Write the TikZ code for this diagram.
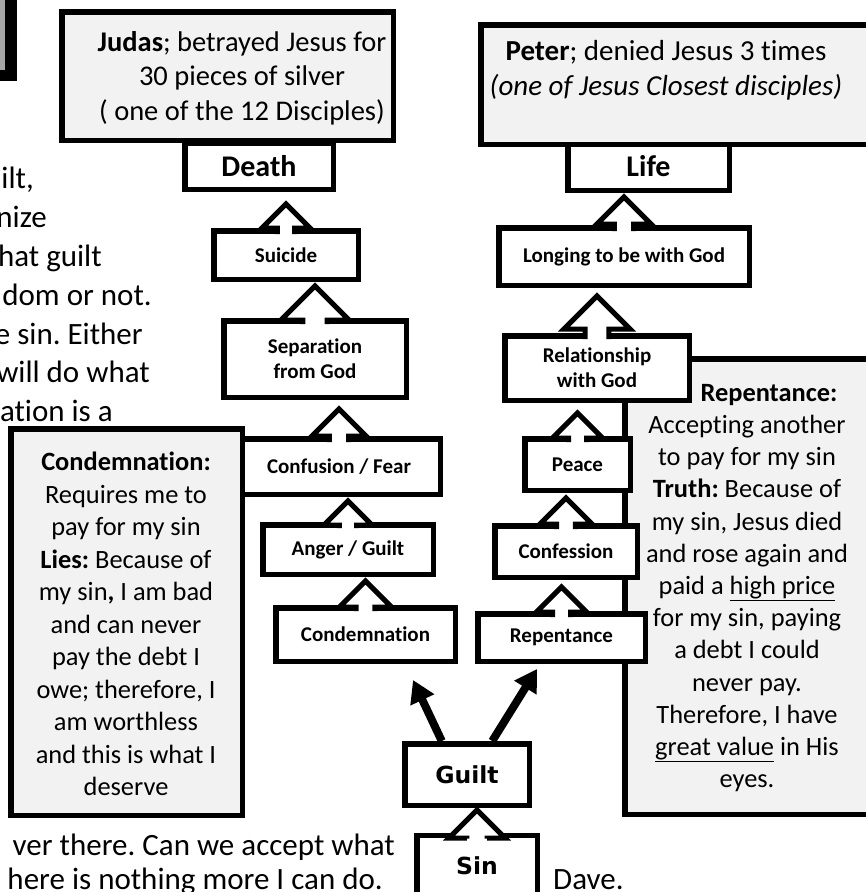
\documentclass[tikz,border=0pt]{standalone}
\usepackage{fontspec}
\setmainfont{Carlito}[Ligatures=CommonOff]
\newfontfamily\heavyfont{DejaVu Sans}
\usetikzlibrary{arrows.meta,calc}
\frenchspacing

\definecolor{notegrey}{HTML}{F2F2F2}
\definecolor{tabgrey}{HTML}{A6A6A6}

\tikzset{
  stepbox/.style = {draw, line width=5.5pt, fill=white, inner sep=0pt,
                    align=center, font=\bfseries\fontsize{21}{25}\selectfont},
  endbox/.style  = {stepbox, font=\bfseries\fontsize{30}{36}\selectfont},
  rootbox/.style = {stepbox, font=\heavyfont\bfseries\fontsize{23.5}{27}\selectfont},
  notebox/.style = {draw, line width=5.5pt, fill=notegrey, inner sep=0pt},
  notetext/.style = {inner sep=0pt, align=center, font=\fontsize{26.4}{32.2}\selectfont},
  bodytext/.style = {inner sep=0pt, font=\fontsize{31}{38}\selectfont},
  blockarrow/.style = {draw, fill=white, line width=5pt, line join=miter},
  bigarrow/.style = {line width=8pt, -{Triangle[length=22pt,width=25pt]}},
}

% hollow block arrow from the top of #1 up to the bottom of #2
% #3 = half width of the head, #4 = gap below #2
\newcommand{\upblock}[4]{%
  \path[blockarrow] let \p1 = (#1.north), \p2 = (#2.south) in
    (\x1-0.36*#3pt, \y1-6pt) -- (\x1-0.36*#3pt, \y2-4pt-#4pt-#3pt)
    -- (\x1-#3pt, \y2-4pt-#4pt-#3pt) -- (\x1, \y2-4pt-#4pt)
    -- (\x1+#3pt, \y2-4pt-#4pt-#3pt) -- (\x1+0.36*#3pt, \y2-4pt-#4pt-#3pt)
    -- (\x1+0.36*#3pt, \y1-6pt);
}

\begin{document}
\begin{tikzpicture}[x=1pt, y=-1pt]
  \useasboundingbox (0,0) rectangle (866,892);
  \clip (0,0) rectangle (866,892);
  \fill[white] (0,0) rectangle (866,892);

  % corner of the box above the page
  \fill[black] (0,0) rectangle (17,81);
  \fill[tabgrey] (0,0) rectangle (5,70);

  % the two ends
  \node[endbox, minimum width=148.5pt, minimum height=46.5pt] (death) at (259,166) {Death};
  \node[endbox, minimum width=161.5pt, minimum height=48.5pt] (life) at (648.5,166) {Life};

  \node[notebox, minimum width=331.5pt, minimum height=128.5pt] (judas) at (227.5,76) {};
  \node[notetext, font=\fontsize{28.5}{34.5}\selectfont] (judastext) at (242,78)
    {\textbf{Judas}; betrayed Jesus for\\30 pieces of silver\\( one of the 12 Disciples)};
  \node[notebox, minimum width=396.5pt, minimum height=119.5pt] (peter) at (679,84.5) {};
  \node[notetext, font=\fontsize{29}{35}\selectfont] (petertext) at (666,70.5)
    {\textbf{Peter}; denied Jesus 3 times\\\textit{(one of Jesus Closest disciples)}};

  % left path
  \node[stepbox, minimum width=144.5pt, minimum height=48.5pt] (suicide) at (286,255) {Suicide};
  \node[stepbox, minimum width=182.5pt, minimum height=76.5pt] (separation) at (315,359) {Separation\\from God};
  \node[stepbox, minimum width=202.5pt, minimum height=55.5pt] (confusion) at (339,466.5) {Confusion / Fear};

  \node[notebox, minimum width=231.5pt, minimum height=386.5pt] (condnote) at (126.5,622) {};
  \node[notetext, font=\fontsize{26.4}{32.5}\selectfont] (condtext) at (126,624)
    {\textbf{Condemnation:}\\Requires me to\\pay for my sin\\\textbf{Lies:} Because of\\
     my sin\textbf{,} I am bad\\and can never\\pay the debt I\\owe; therefore, I\\
     am worthless\\and this is what I\\deserve};

  \node[stepbox, minimum width=170.5pt, minimum height=49.5pt] (anger) at (348,549.5) {Anger / Guilt};
  \node[stepbox, minimum width=179.5pt, minimum height=53.5pt] (condemnation) at (365.5,634.5) {Condemnation};

  % right path
  \node[notebox, minimum width=252.5pt, minimum height=455.5pt] (repnote) at (751,586.5) {};
  \node[notetext] (reptext) at (747,588)
    {\hspace*{44pt}\textbf{Repentance:}\\Accepting another\\to pay for my sin\\\textbf{Truth:} Because of\\
     my sin, Jesus died\\and rose again and\\paid a \underline{high price}\\for my sin, paying\\
     a debt I could\\never pay.\\Therefore, I have\\\underline{great value} in His\\eyes.};

  \node[stepbox, minimum width=250.5pt, minimum height=57.5pt] (longing) at (624,256.5) {Longing to be with God};
  \node[stepbox, minimum width=184.5pt, minimum height=64.5pt] (relationship) at (597,368) {Relationship\\with God};
  \node[stepbox, minimum width=105.5pt, minimum height=51.5pt] (peace) at (577.5,464.5) {Peace};
  \node[stepbox, minimum width=142.5pt, minimum height=51.5pt] (confession) at (566,551.5) {Confession};
  \node[stepbox, minimum width=167.5pt, minimum height=47.5pt] (repentance) at (561.5,637.5) {Repentance};

  % root
  \node[rootbox, minimum width=124.5pt, minimum height=61.5pt] (guilt) at (467,774.5) {Guilt};
  \node[rootbox, minimum width=120.5pt, minimum height=61.5pt] (sin) at (477,866) {Sin};

  % hollow arrows
  \upblock{suicide}{death}{24}{8}
  \upblock{separation}{suicide}{34}{0}
  \upblock{confusion}{separation}{27}{5}
  \upblock{anger}{confusion}{24}{0}
  \upblock{condemnation}{anger}{26}{0}
  \upblock{longing}{life}{27}{0}
  \upblock{relationship}{longing}{33}{4}
  \upblock{peace}{relationship}{25}{6}
  \upblock{confession}{peace}{26}{1}
  \upblock{repentance}{confession}{25}{3}
  \upblock{sin}{guilt}{28}{-2}

  % the two ways out of guilt
  \coordinate (condtip) at (413,680);
  \coordinate (reptip) at (537,669);
  \draw[bigarrow] (guilt.127) -- (condtip);
  \draw[bigarrow] (guilt.53) -- (reptip);

  % page text around the picture
  \node[bodytext, anchor=base east] (frag1) at (34,188) {ilt,};
  \node[bodytext, anchor=base east] (frag2) at (47,227) {nize};
  \node[bodytext, anchor=base east] (frag3) at (102,266) {hat guilt};
  \node[bodytext, anchor=base east] (frag4) at (152,305) {dom or not.};
  \node[bodytext, anchor=base east] (frag5) at (143,344) {e sin. Either};
  \node[bodytext, anchor=base east] (frag6) at (150,382) {will do what};
  \node[bodytext, anchor=base east] (frag7) at (113,421) {ation is a};
  \node[bodytext, anchor=base east] (frag8) at (395,855) {ver there. Can we accept what};
  \node[bodytext, anchor=base east] (frag9) at (383,889) {here is nothing more I can do.};
  \node[bodytext, anchor=base west] (sign) at (553,889) {Dave.};
\end{tikzpicture}
\end{document}
